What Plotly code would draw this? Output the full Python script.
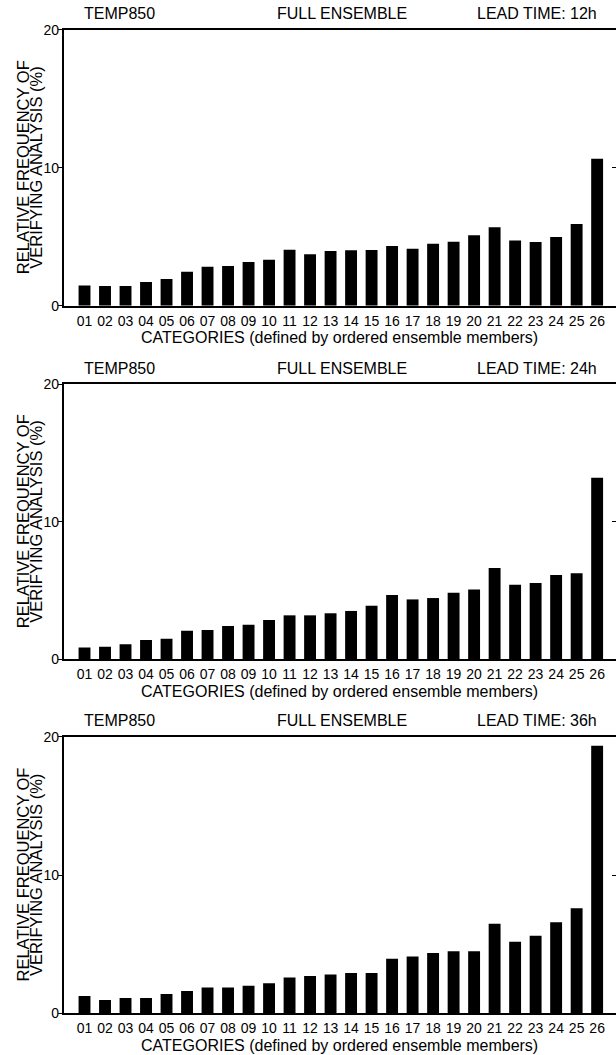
import plotly.graph_objects as go

categories = [f"{i:02d}" for i in range(1, 27)]
lead_times = ["12h", "24h", "36h"]
freq_12h = [1.47, 1.43, 1.43, 1.71, 1.93, 2.46, 2.83, 2.87, 3.16, 3.33, 4.06, 3.72, 3.96,
            4.01, 4.03, 4.32, 4.13, 4.49, 4.64, 5.10, 5.68, 4.73, 4.61, 4.98, 5.92, 10.65]
freq_24h = [0.83, 0.90, 1.07, 1.38, 1.48, 2.06, 2.11, 2.40, 2.50, 2.84, 3.18, 3.18, 3.33,
            3.50, 3.88, 4.66, 4.34, 4.44, 4.83, 5.07, 6.63, 5.41, 5.53, 6.12, 6.24, 13.20]
freq_36h = [1.25, 0.96, 1.11, 1.11, 1.40, 1.61, 1.86, 1.86, 2.00, 2.17, 2.58, 2.70, 2.80,
            2.92, 2.92, 3.95, 4.10, 4.36, 4.48, 4.48, 6.48, 5.18, 5.61, 6.58, 7.59, 19.35]
series = [freq_12h, freq_24h, freq_36h]
y_ticks = [0, 10, 20]

W, H = 616, 1055
FONT = "Liberation Sans, Arial, Helvetica, sans-serif"
FS = 16
TFS = 14

# panel pixel extents (top, bottom)
panels_px = [(29.7, 305.7), (384.4, 659.0), (736.7, 1013.3)]
x_dom = [63.6 / W, 1.0]

fig = go.Figure()
layout = dict(
    width=W, height=H, margin=dict(l=0, r=0, t=0, b=0, pad=0, autoexpand=False),
    paper_bgcolor="white", plot_bgcolor="white", showlegend=False,
    font=dict(family=FONT, size=FS, color="black"), bargap=0.42,
)
annotations = []
for k, (vals, lt) in enumerate(zip(series, lead_times)):
    n = k + 1
    xa = "x" if n == 1 else f"x{n}"
    ya = "y" if n == 1 else f"y{n}"
    yr = f"y{n + 3}"
    top, bot = panels_px[k]
    ydom = [1 - bot / H, 1 - top / H]
    fig.add_trace(go.Bar(x=categories, y=vals, xaxis=xa, yaxis=ya,
                         marker=dict(color="black", line=dict(width=0))))
    fig.add_trace(go.Scatter(x=[], y=[], xaxis=xa, yaxis=yr, showlegend=False))
    layout["xaxis" if n == 1 else f"xaxis{n}"] = dict(
        domain=x_dom, anchor=ya, type="category", categoryorder="array",
        categoryarray=categories, range=[-1.02, 25.92], automargin=False,
        showline=True, linecolor="black", linewidth=2, mirror=True,
        ticks="outside", ticklen=1, tickcolor="rgba(0,0,0,0)",
        tickfont=dict(size=TFS), showgrid=False, zeroline=False,
    )
    layout["yaxis" if n == 1 else f"yaxis{n}"] = dict(
        domain=ydom, anchor=xa, range=[0, 20], tickvals=y_ticks, automargin=False,
        showline=True, linecolor="black", linewidth=1.5,
        ticks="outside", ticklen=4, tickwidth=1.2, tickcolor="black",
        ticklabelstandoff=-4,
        tickfont=dict(size=TFS), showgrid=False, zeroline=False,
    )
    layout[f"yaxis{n + 3}"] = dict(
        domain=ydom, anchor=xa, overlaying=ya, side="right", range=[0, 20],
        tickvals=[10], showticklabels=False, ticks="inside", ticklen=4, automargin=False,
        tickwidth=1.2, tickcolor="black", showline=False, showgrid=False, zeroline=False,
    )
    yd = f"{ya} domain"
    for txt, xc in [("TEMP850", 119), ("FULL ENSEMBLE", 342), (f"LEAD TIME: {lt}", 537)]:
        annotations.append(dict(text=txt, xref="paper", x=xc / W, xanchor="center",
                                yref=yd, y=1, yanchor="middle", yshift=16,
                                showarrow=False, font=dict(size=FS)))
    annotations.append(dict(text="CATEGORIES (defined by ordered ensemble members)",
                            xref="paper", x=339 / W, xanchor="center",
                            yref=yd, y=0, yanchor="middle", yshift=-32,
                            showarrow=False, font=dict(size=FS)))
    for txt, xc in [("RELATIVE FREQUENCY OF", 22.5), ("VERIFYING ANALYSIS (%)", 36)]:
        annotations.append(dict(text=txt, xref="paper", x=xc / W, xanchor="center",
                                yref=yd, y=0.5, yanchor="middle", textangle=-90,
                                showarrow=False, font=dict(size=FS + 0.5)))

layout["annotations"] = annotations
fig.update_layout(**layout)
fig.write_html(
    "out.html",
    config={"displayModeBar": False},
    post_script="document.body.style.margin='0';document.body.style.overflow='hidden';",
)
